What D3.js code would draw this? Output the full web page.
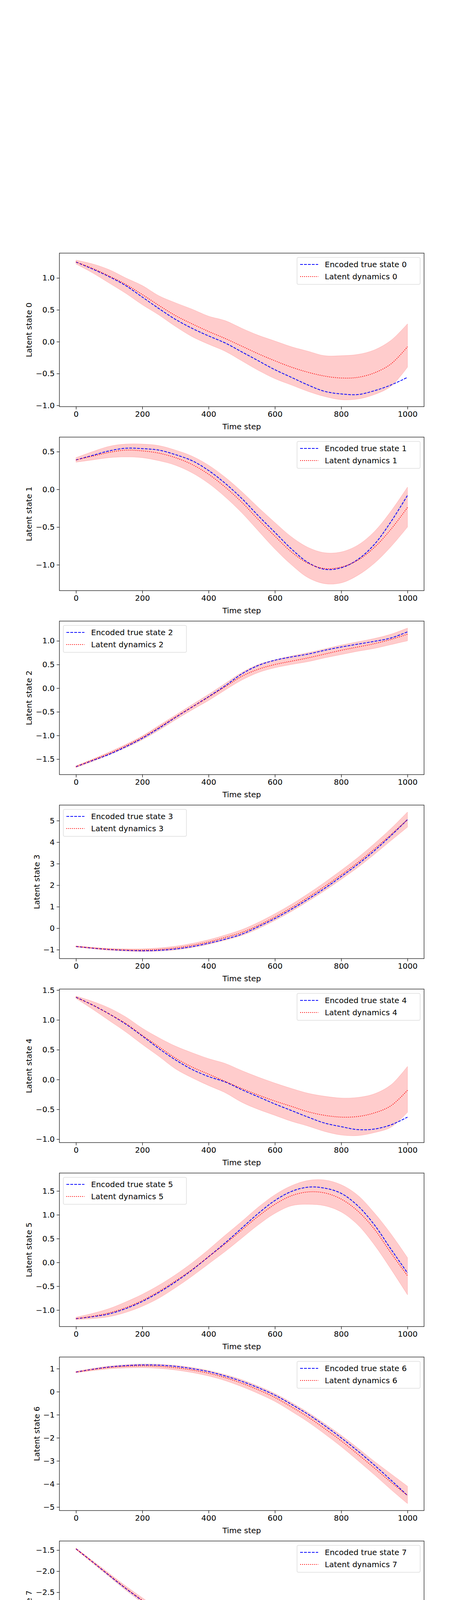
<!DOCTYPE html>
<html>
<head>
<meta charset="utf-8">
<script src="https://cdn.jsdelivr.net/npm/d3@7"></script>
<style>
  body { margin: 0; background: #fff; }
  text { font-family: "DejaVu Sans", sans-serif; }
</style>
</head>
<body>
<svg id="chart" width="1200" height="5400"></svg>
<script>
// time steps (every 50)
const steps = d3.range(0, 1001, 50);

const encoded = [
  [1.25,1.14,1.02,0.88,0.70,0.52,0.35,0.21,0.09,-0.02,-0.16,-0.30,-0.44,-0.56,-0.68,-0.78,-0.82,-0.83,-0.77,-0.68,-0.56],
  [0.39,0.45,0.51,0.545,0.54,0.52,0.46,0.38,0.25,0.08,-0.12,-0.35,-0.57,-0.79,-0.97,-1.06,-1.04,-0.93,-0.73,-0.43,-0.08],
  [-1.66,-1.53,-1.40,-1.24,-1.06,-0.85,-0.62,-0.40,-0.18,0.05,0.30,0.48,0.59,0.66,0.72,0.80,0.87,0.93,0.99,1.06,1.19],
  [-0.85,-0.93,-0.99,-1.03,-1.05,-1.03,-0.97,-0.86,-0.70,-0.51,-0.28,0.07,0.45,0.88,1.35,1.85,2.40,2.97,3.60,4.30,5.05],
  [1.38,1.25,1.10,0.93,0.73,0.52,0.33,0.17,0.05,-0.04,-0.17,-0.29,-0.41,-0.52,-0.63,-0.73,-0.79,-0.84,-0.83,-0.76,-0.63],
  [-1.18,-1.14,-1.08,-0.97,-0.82,-0.63,-0.41,-0.16,0.12,0.41,0.72,1.03,1.30,1.49,1.58,1.56,1.45,1.19,0.79,0.28,-0.22],
  [0.85,0.97,1.07,1.13,1.16,1.15,1.10,1.00,0.87,0.68,0.45,0.17,-0.15,-0.55,-0.98,-1.47,-2.00,-2.57,-3.18,-3.83,-4.50],
  [-1.47,-1.78,-2.10,-2.41,-2.70,-2.98,-3.24,-3.50,-3.74,-3.96,-4.14,-4.29,-4.42,-4.52,-4.60,-4.65,-4.68,-4.69,-4.69,-4.67,-4.65],
  [4.20,4.75,5.25,5.72,6.14,6.50,6.80,7.06,7.27,7.40,7.46,7.46,7.41,7.34,7.26,7.18,7.12,7.09,7.08,7.11,7.18]
];

const latent = [
  [1.25,1.15,1.03,0.90,0.74,0.57,0.41,0.28,0.16,0.05,-0.07,-0.19,-0.30,-0.40,-0.48,-0.54,-0.57,-0.56,-0.49,-0.35,-0.08],
  [0.39,0.44,0.49,0.52,0.51,0.48,0.42,0.33,0.20,0.03,-0.17,-0.40,-0.62,-0.83,-0.98,-1.05,-1.03,-0.94,-0.77,-0.53,-0.24],
  [-1.66,-1.52,-1.38,-1.22,-1.04,-0.83,-0.61,-0.40,-0.19,0.03,0.25,0.40,0.50,0.57,0.64,0.72,0.80,0.87,0.94,1.03,1.14],
  [-0.85,-0.92,-0.98,-1.01,-1.02,-0.99,-0.92,-0.80,-0.64,-0.43,-0.20,0.13,0.52,0.95,1.43,1.94,2.48,3.05,3.68,4.35,5.05],
  [1.38,1.25,1.10,0.94,0.74,0.55,0.36,0.21,0.09,-0.03,-0.15,-0.26,-0.36,-0.45,-0.54,-0.60,-0.63,-0.62,-0.56,-0.44,-0.18],
  [-1.18,-1.13,-1.06,-0.95,-0.80,-0.61,-0.39,-0.15,0.12,0.39,0.68,0.97,1.22,1.40,1.48,1.46,1.33,1.08,0.70,0.20,-0.28],
  [0.85,0.96,1.05,1.10,1.12,1.10,1.04,0.94,0.80,0.61,0.37,0.08,-0.25,-0.66,-1.10,-1.60,-2.13,-2.71,-3.31,-3.92,-4.50],
  [-1.47,-1.78,-2.09,-2.40,-2.69,-2.97,-3.23,-3.48,-3.72,-3.93,-4.10,-4.25,-4.37,-4.47,-4.54,-4.59,-4.61,-4.62,-4.62,-4.60,-4.57],
  [4.20,4.74,5.23,5.69,6.10,6.46,6.76,7.02,7.22,7.35,7.41,7.41,7.37,7.30,7.23,7.16,7.10,7.07,7.06,7.10,7.16]
];

const upper = [
  [1.28,1.22,1.13,1.00,0.88,0.72,0.61,0.51,0.40,0.33,0.21,0.10,0.01,-0.08,-0.15,-0.22,-0.22,-0.20,-0.13,0.02,0.28],
  [0.42,0.50,0.57,0.60,0.60,0.58,0.52,0.44,0.32,0.16,-0.03,-0.24,-0.44,-0.63,-0.77,-0.84,-0.83,-0.74,-0.56,-0.29,0.03],
  [-1.64,-1.50,-1.35,-1.19,-1.01,-0.79,-0.57,-0.35,-0.13,0.10,0.33,0.50,0.60,0.68,0.75,0.83,0.91,0.98,1.05,1.14,1.27],
  [-0.82,-0.89,-0.94,-0.96,-0.96,-0.92,-0.84,-0.71,-0.54,-0.32,-0.07,0.27,0.67,1.11,1.60,2.13,2.69,3.28,3.93,4.63,5.40],
  [1.40,1.31,1.20,1.05,0.86,0.70,0.56,0.45,0.35,0.27,0.15,0.04,-0.06,-0.15,-0.23,-0.28,-0.31,-0.30,-0.24,-0.09,0.22],
  [-1.15,-1.07,-0.97,-0.83,-0.67,-0.48,-0.26,-0.01,0.27,0.57,0.86,1.16,1.42,1.61,1.72,1.73,1.63,1.41,1.04,0.60,0.10],
  [0.88,1.01,1.11,1.17,1.20,1.19,1.14,1.05,0.92,0.74,0.52,0.24,-0.08,-0.47,-0.90,-1.38,-1.89,-2.44,-3.02,-3.56,-4.10],
  [-1.45,-1.75,-2.05,-2.35,-2.63,-2.90,-3.16,-3.41,-3.64,-3.84,-4.01,-4.15,-4.27,-4.36,-4.43,-4.47,-4.49,-4.49,-4.48,-4.45,-4.40],
  [4.22,4.77,5.28,5.75,6.16,6.53,6.84,7.10,7.31,7.44,7.50,7.50,7.46,7.40,7.33,7.26,7.21,7.19,7.19,7.23,7.31]
];

const lower = [
  [1.22,1.08,0.92,0.76,0.58,0.42,0.24,0.08,-0.04,-0.15,-0.30,-0.45,-0.58,-0.68,-0.78,-0.86,-0.91,-0.90,-0.83,-0.70,-0.40],
  [0.36,0.39,0.42,0.43,0.42,0.38,0.32,0.22,0.08,-0.10,-0.31,-0.55,-0.79,-1.00,-1.17,-1.25,-1.24,-1.14,-0.98,-0.76,-0.50],
  [-1.68,-1.55,-1.41,-1.26,-1.09,-0.89,-0.67,-0.46,-0.26,-0.04,0.17,0.33,0.43,0.50,0.56,0.64,0.71,0.78,0.84,0.92,1.00],
  [-0.88,-0.96,-1.03,-1.07,-1.09,-1.07,-1.01,-0.90,-0.75,-0.56,-0.34,-0.02,0.36,0.78,1.25,1.74,2.27,2.82,3.43,4.07,4.70],
  [1.36,1.18,0.99,0.80,0.59,0.39,0.18,0.03,-0.10,-0.22,-0.38,-0.50,-0.60,-0.70,-0.78,-0.87,-0.93,-0.94,-0.89,-0.80,-0.55],
  [-1.20,-1.18,-1.14,-1.05,-0.92,-0.75,-0.53,-0.29,-0.03,0.23,0.51,0.79,1.03,1.19,1.22,1.19,1.06,0.79,0.37,-0.14,-0.68],
  [0.82,0.91,0.99,1.03,1.04,1.01,0.94,0.83,0.68,0.48,0.22,-0.08,-0.42,-0.85,-1.31,-1.83,-2.38,-2.98,-3.60,-4.24,-4.85],
  [-1.49,-1.81,-2.13,-2.45,-2.75,-3.04,-3.30,-3.56,-3.80,-4.02,-4.20,-4.36,-4.49,-4.59,-4.67,-4.72,-4.75,-4.76,-4.76,-4.75,-4.73],
  [4.18,4.70,5.18,5.63,6.03,6.39,6.68,6.94,7.14,7.26,7.30,7.30,7.26,7.20,7.13,7.05,6.98,6.94,6.93,6.96,7.02]
];

const xTicks = [0, 200, 400, 600, 800, 1000];
const yTicks = [
  [-1, -0.5, 0, 0.5, 1],
  [-1, -0.5, 0, 0.5],
  [-1.5, -1, -0.5, 0, 0.5, 1],
  [-1, 0, 1, 2, 3, 4, 5],
  [-1, -0.5, 0, 0.5, 1, 1.5],
  [-1, -0.5, 0, 0.5, 1, 1.5],
  [-5, -4, -3, -2, -1, 0, 1],
  [-4.5, -4, -3.5, -3, -2.5, -2, -1.5],
  [4.5, 5, 5.5, 6, 6.5, 7, 7.5]
];
const legendPos = ['ur', 'ur', 'ul', 'ul', 'ur', 'ul', 'ur', 'ur', 'lr'];

const LEFT = 152, RIGHT = 1085, TOP0 = 648, STEP = 471, H = 393;
const FONT = 20;

const svg = d3.select('#chart');
const x = d3.scaleLinear().domain([-50, 1050]).range([LEFT, RIGHT]);

encoded.forEach((enc, i) => {
  const top = TOP0 + i * STEP;
  const all = enc.concat(latent[i], upper[i], lower[i]);
  const lo = d3.min(all), hi = d3.max(all), pad = (hi - lo) * 0.05;
  const y = d3.scaleLinear().domain([lo - pad, hi + pad]).range([top + H, top]);
  const g = svg.append('g');

  const area = d3.area()
    .x((d, j) => x(steps[j]))
    .y0((d, j) => y(lower[i][j]))
    .y1(d => y(d))
    .curve(d3.curveCatmullRom);
  g.append('path')
    .attr('d', area(upper[i]))
    .attr('fill', 'rgba(255,0,0,0.2)')
    .attr('stroke', 'rgba(255,0,0,0.2)');

  const line = d3.line()
    .x((d, j) => x(steps[j]))
    .y(d => y(d))
    .curve(d3.curveCatmullRom);
  g.append('path').attr('d', line(enc))
    .attr('fill', 'none').attr('stroke', 'blue')
    .attr('stroke-width', 2).attr('stroke-dasharray', '7,3');
  g.append('path').attr('d', line(latent[i]))
    .attr('fill', 'none').attr('stroke', 'red')
    .attr('stroke-width', 2).attr('stroke-dasharray', '2,3');

  g.append('rect')
    .attr('x', LEFT).attr('y', top).attr('width', RIGHT - LEFT).attr('height', H)
    .attr('fill', 'none').attr('stroke', '#000').attr('stroke-width', 1.2);

  const step = yTicks[i][1] - yTicks[i][0];
  const fmt = step < 1 ? d3.format('.1f') : d3.format('d');

  const xa = g.append('g').attr('transform', `translate(0,${top + H})`)
    .call(d3.axisBottom(x).tickValues(xTicks).tickSize(7).tickPadding(5).tickFormat(d3.format('d')));
  const ya = g.append('g').attr('transform', `translate(${LEFT},0)`)
    .call(d3.axisLeft(y).tickValues(yTicks[i]).tickSize(7).tickPadding(5).tickFormat(fmt));
  [xa, ya].forEach(a => {
    a.select('.domain').remove();
    a.selectAll('text').style('font-size', FONT + 'px').style('font-family', 'DejaVu Sans');
    a.selectAll('line').attr('stroke-width', 1.2);
  });

  g.append('text')
    .attr('x', (LEFT + RIGHT) / 2).attr('y', top + H + 58)
    .attr('text-anchor', 'middle').style('font-size', FONT + 'px')
    .text('Time step');

  // bbox is in the axis group's own coordinates, so add LEFT back
  const bb = ya.node().getBBox();
  g.append('text')
    .attr('transform', `translate(${LEFT + bb.x - 10},${top + H / 2}) rotate(-90)`)
    .attr('text-anchor', 'middle').style('font-size', FONT + 'px')
    .text(`Latent state ${i}`);

  // legend
  const LW = 315, LH = 69;
  const lx = legendPos[i] === 'ul' ? LEFT + 10 : RIGHT - 10 - LW;
  const ly = legendPos[i] === 'lr' ? top + H - 11 - LH : top + 11;
  const lg = g.append('g').attr('transform', `translate(${lx},${ly})`);
  lg.append('rect').attr('width', LW).attr('height', LH).attr('rx', 3)
    .attr('fill', 'rgba(255,255,255,0.8)').attr('stroke', '#ccc');
  const entries = [
    {label: `Encoded true state ${i}`, color: 'blue', dash: '7,3'},
    {label: `Latent dynamics ${i}`, color: 'red', dash: '2,3'}
  ];
  entries.forEach((e, k) => {
    const yy = 18 + k * 31;
    lg.append('line').attr('x1', 8).attr('x2', 54).attr('y1', yy).attr('y2', yy)
      .attr('stroke', e.color).attr('stroke-width', 2).attr('stroke-dasharray', e.dash);
    lg.append('text').attr('x', 71).attr('y', yy + 7)
      .style('font-size', FONT + 'px').text(e.label);
  });
});
</script>
</body>
</html>
